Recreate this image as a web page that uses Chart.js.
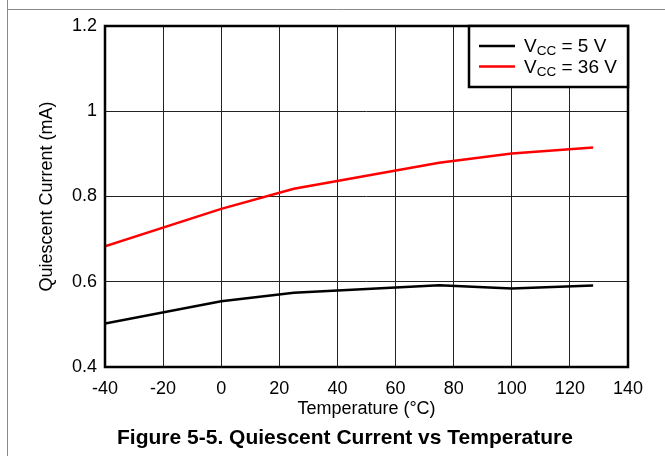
<!DOCTYPE html>
<html>
<head>
<meta charset="utf-8">
<script src="https://cdn.jsdelivr.net/npm/chart.js@4"></script>
<style>
  html, body { margin: 0; padding: 0; background: #fff; }
  #wrap { width: 665px; height: 456px; }
</style>
</head>
<body>
<div id="wrap"><canvas id="iqChart" width="665" height="456"></canvas></div>
<script>
// values
const temperatures = [-40, 0, 25, 75, 100, 128];
const currentVcc5 = [0.502, 0.554, 0.574, 0.592, 0.584, 0.591];
const currentVcc36 = [0.683, 0.771, 0.818, 0.879, 0.901, 0.915];
const supplyVoltages = ['5 V', '36 V'];
const seriesColors = ['#000000', '#ff0000'];
const xTickValues = [-40, -20, 0, 20, 40, 60, 80, 100, 120, 140];
const yTickValues = [0.4, 0.6, 0.8, 1, 1.2];

const FONT = 'Arial, "Liberation Sans", sans-serif';

const toPoints = (ys) => temperatures.map((t, i) => ({ x: t, y: ys[i] }));

// gray page frame + figure caption
const pagePlugin = {
    id: 'pageFrame',
    beforeDraw: (chart) => {
        const ctx = chart.ctx;
        ctx.save();
        ctx.fillStyle = '#fff';
        ctx.fillRect(0, 0, chart.width, chart.height);
        ctx.strokeStyle = '#8a8a8a';
        ctx.lineWidth = 1;
        ctx.beginPath();
        ctx.moveTo(7.5, 0);
        ctx.lineTo(7.5, chart.height);
        ctx.moveTo(7.5, 9.5);
        ctx.lineTo(chart.width, 9.5);
        ctx.stroke();
        ctx.restore();
    },
    afterDraw: (chart) => {
        const ctx = chart.ctx;
        ctx.save();
        ctx.fillStyle = '#000';
        ctx.font = 'bold 21px ' + FONT;
        ctx.textAlign = 'center';
        ctx.textBaseline = 'middle';
        ctx.fillText('Figure 5-5. Quiescent Current vs Temperature', 345, 438);
        ctx.restore();
    }
};

// thick box round the plot and the legend with V_CC subscripts
const boxLegendPlugin = {
    id: 'boxLegend',
    afterDatasetsDraw: (chart) => {
        const ctx = chart.ctx;
        const a = chart.chartArea;
        ctx.save();
        ctx.strokeStyle = '#000';
        ctx.lineWidth = 2.5;
        ctx.strokeRect(a.left, a.top, a.right - a.left, a.bottom - a.top);

        // legend box in the top right corner
        const w = 159, h = 61;
        const lx = a.right - w, ly = a.top;
        ctx.fillStyle = '#fff';
        ctx.fillRect(lx, ly, w, h);
        ctx.strokeRect(lx, ly, w, h);

        chart.data.datasets.forEach((ds, i) => {
            const y = ly + 20 + i * 20.5;
            ctx.strokeStyle = ds.borderColor;
            ctx.lineWidth = 2.5;
            ctx.beginPath();
            ctx.moveTo(lx + 10, y);
            ctx.lineTo(lx + 46, y);
            ctx.stroke();

            ctx.fillStyle = '#000';
            ctx.textBaseline = 'alphabetic';
            ctx.textAlign = 'left';
            let x = lx + 55;
            const base = y + 6;
            ctx.font = '19px ' + FONT;
            ctx.fillText('V', x, base);
            x += ctx.measureText('V').width;
            ctx.font = '13.5px ' + FONT;
            ctx.fillText('CC', x, base + 3);
            x += ctx.measureText('CC').width;
            ctx.font = '19px ' + FONT;
            ctx.fillText(' = ' + supplyVoltages[i], x, base);
        });
        ctx.restore();
    }
};

const ctx = document.getElementById('iqChart').getContext('2d');

window.iqChart = new Chart(ctx, {
    type: 'line',
    data: {
        datasets: [{
            label: 'VCC = ' + supplyVoltages[0],
            data: toPoints(currentVcc5),
            borderColor: seriesColors[0],
            borderWidth: 2.5,
            pointRadius: 0,
            tension: 0
        }, {
            label: 'VCC = ' + supplyVoltages[1],
            data: toPoints(currentVcc36),
            borderColor: seriesColors[1],
            borderWidth: 2.5,
            pointRadius: 0,
            tension: 0
        }]
    },
    options: {
        responsive: false,
        animation: false,
        layout: {
            padding: { top: 26, right: 37, bottom: 31, left: 0 }
        },
        plugins: {
            legend: { display: false },
            tooltip: { enabled: false },
            title: { display: false }
        },
        scales: {
            x: {
                type: 'linear',
                min: -40,
                max: 140,
                afterBuildTicks: (axis) => {
                    axis.ticks = xTickValues.map(v => ({ value: v }));
                },
                afterFit: (axis) => { axis.height = 58; },
                grid: { color: '#222', lineWidth: 1, drawTicks: false },
                border: { display: false },
                ticks: {
                    color: '#000',
                    padding: 11,
                    maxRotation: 0,
                    callback: (v) => String(v),
                    font: { family: FONT, size: 18 }
                },
                title: {
                    display: true,
                    text: 'Temperature (°C)',
                    color: '#000',
                    padding: { top: 0, bottom: 5 },
                    font: { family: FONT, size: 18 }
                }
            },
            y: {
                min: 0.4,
                max: 1.2,
                afterBuildTicks: (axis) => {
                    axis.ticks = yTickValues.map(v => ({ value: v }));
                },
                afterFit: (axis) => { axis.width = 105; },
                grid: { color: '#222', lineWidth: 1, drawTicks: false },
                border: { display: false },
                ticks: {
                    color: '#000',
                    padding: 8,
                    callback: (v) => String(v),
                    font: { family: FONT, size: 18 }
                },
                title: {
                    display: true,
                    text: 'Quiescent Current (mA)',
                    color: '#000',
                    padding: { top: 36, bottom: 0 },
                    font: { family: FONT, size: 18 }
                }
            }
        }
    },
    plugins: [pagePlugin, boxLegendPlugin]
});
</script>
</body>
</html>
